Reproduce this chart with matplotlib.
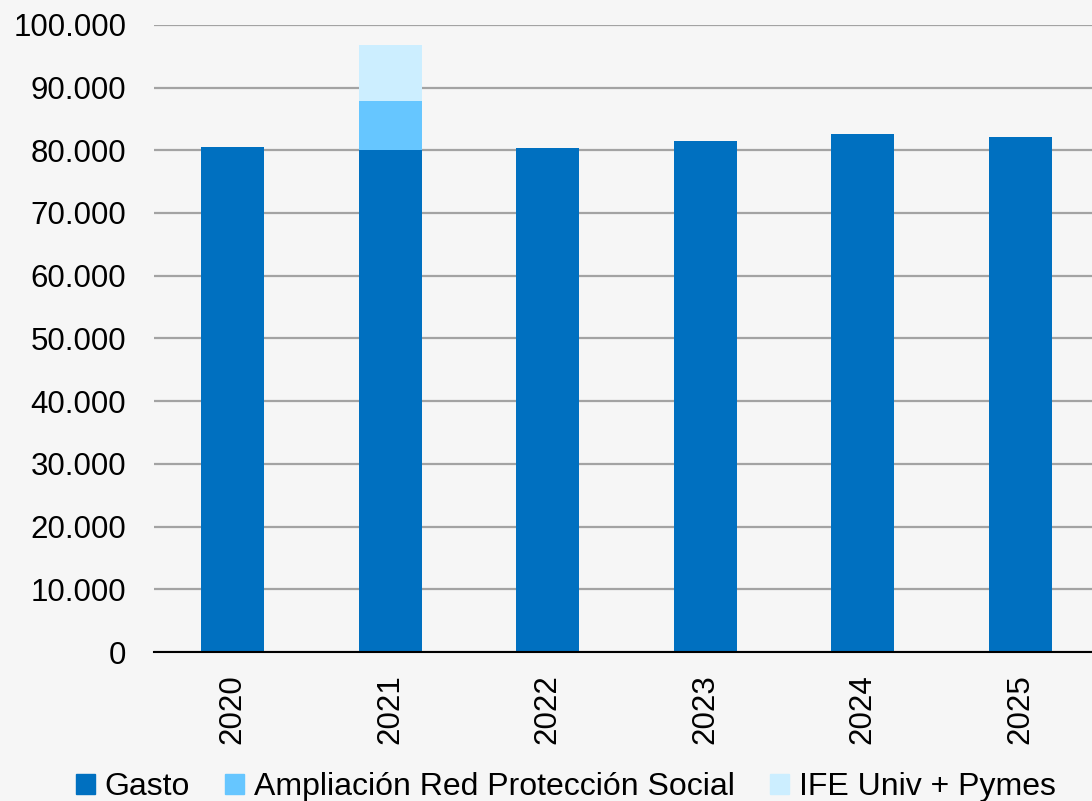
import matplotlib
matplotlib.use('Agg')
import matplotlib.pyplot as plt
from matplotlib.ticker import FuncFormatter, MultipleLocator
from matplotlib.patches import Patch

years = ['2020', '2021', '2022', '2023', '2024', '2025']
gasto = [80500, 80100, 80400, 81450, 82550, 82100]
ampliacion = [0, 7800, 0, 0, 0, 0]
ife = [0, 8900, 0, 0, 0, 0]

c_gasto = '#0070c0'
c_ampl = '#66c6ff'
c_ife = '#cceeff'

plt.rcParams['font.family'] = ['Liberation Sans', 'DejaVu Sans']

fig = plt.figure(figsize=(10.92, 8.01), dpi=100)
fig.patch.set_facecolor('#f6f6f6')
ax = fig.add_axes([0.141, 0.186, 0.859, 0.783])
ax.set_facecolor('#f6f6f6')

x = list(range(len(years)))
bottom2 = [g + a for g, a in zip(gasto, ampliacion)]
ax.bar(x, gasto, width=0.4, color=c_gasto, zorder=3)
ax.bar(x, ampliacion, width=0.4, bottom=gasto, color=c_ampl, zorder=3)
ax.bar(x, ife, width=0.4, bottom=bottom2, color=c_ife, zorder=3)

ax.set_ylim(0, 100000)
ax.set_xlim(-0.5, 5.455)
ax.yaxis.set_major_locator(MultipleLocator(10000))
ax.yaxis.set_major_formatter(FuncFormatter(lambda v, p: f'{int(v):,}'.replace(',', '.')))
ax.grid(axis='y', color='#a3a3a3', linewidth=1.6, zorder=0)
ax.set_axisbelow(True)

for s in ['top', 'right', 'left']:
    ax.spines[s].set_visible(False)
ax.spines['bottom'].set_color('black')
ax.spines['bottom'].set_linewidth(1.5)
ax.spines['bottom'].set_zorder(4)

ax.set_xticks(x)
ax.set_xticklabels(years, rotation=90)
ax.tick_params(axis='y', length=0, pad=20, labelsize=22.5)
ax.tick_params(axis='x', length=0, pad=16, labelsize=22.5)

handles = [Patch(color=c_gasto), Patch(color=c_ampl), Patch(color=c_ife)]
labels = ['Gasto', 'Ampliación Red Protección Social', 'IFE Univ + Pymes']
fig.legend(handles, labels, loc='center', bbox_to_anchor=(0.518, 0.017), ncol=3,
           frameon=False, fontsize=23, handlelength=0.6, handleheight=0.6,
           handletextpad=0.3, columnspacing=1.1)

fig.savefig('out.png', dpi=100, facecolor=fig.get_facecolor())
